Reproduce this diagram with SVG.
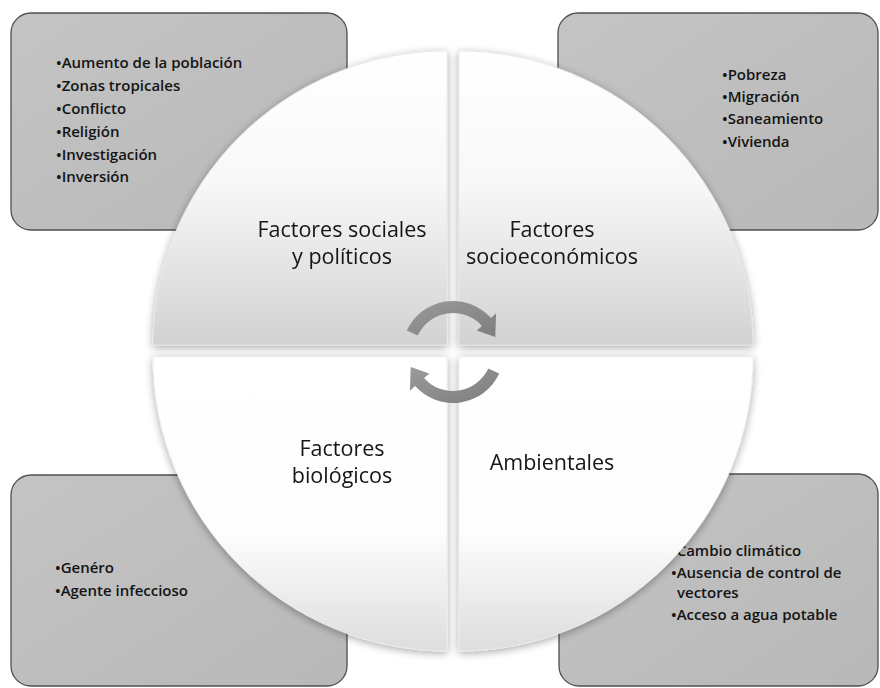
<svg xmlns="http://www.w3.org/2000/svg" width="880" height="688" viewBox="0 0 880 688">
<defs>
<linearGradient id="boxFill" x1="0" y1="0" x2="1" y2="1">
<stop offset="0" stop-color="#c4c4c4"/>
<stop offset="1" stop-color="#b8b8b8"/>
</linearGradient>
<linearGradient id="quadTop" x1="0" y1="0" x2="0" y2="1">
<stop offset="0" stop-color="#ffffff"/>
<stop offset="0.45" stop-color="#f8f8f8"/>
<stop offset="1" stop-color="#d2d2d2"/>
</linearGradient>
<linearGradient id="quadBot" x1="0" y1="0" x2="0" y2="1">
<stop offset="0" stop-color="#ffffff"/>
<stop offset="0.6" stop-color="#fdfdfd"/>
<stop offset="1" stop-color="#dddddd"/>
</linearGradient>
<linearGradient id="arrowFill" x1="0" y1="0" x2="1" y2="1">
<stop offset="0" stop-color="#9a9a9a"/>
<stop offset="1" stop-color="#7e7e7e"/>
</linearGradient>
<filter id="shadow" x="-10%" y="-10%" width="120%" height="120%">
<feGaussianBlur in="SourceAlpha" stdDeviation="4"/>
<feOffset dx="0" dy="2" result="b"/>
<feComponentTransfer><feFuncA type="linear" slope="0.35"/></feComponentTransfer>
<feMerge><feMergeNode/><feMergeNode in="SourceGraphic"/></feMerge>
</filter>
</defs>
<style>
.box{fill:url(#boxFill);stroke:#4f4f4f;stroke-width:1.3}
.item{font-family:"Open Sans","Liberation Sans",sans-serif;font-size:15px;font-weight:600;fill:#141414}
.qt{fill:url(#quadTop);stroke:#e6e6e6;stroke-width:0.8}
.qb{fill:url(#quadBot);stroke:#eeeeee;stroke-width:0.8}
.label{font-family:"Open Sans","Liberation Sans",sans-serif;font-size:21.5px;font-weight:500;fill:#141414;text-anchor:middle}
.arrow{fill:url(#arrowFill)}
</style>
<rect width="880" height="688" fill="#ffffff"/>

<g id="box-sociales">
<rect class="box" x="11" y="13" width="336" height="217" rx="20"/>
<text class="item" x="56" y="68">•Aumento de la población</text>
<text class="item" x="56" y="91">•Zonas tropicales</text>
<text class="item" x="56" y="114">•Conflicto</text>
<text class="item" x="56" y="137">•Religión</text>
<text class="item" x="56" y="160">•Investigación</text>
<text class="item" x="56" y="182">•Inversión</text>
</g>
<g id="box-socioeconomicos">
<rect class="box" x="558" y="13" width="320" height="217" rx="20"/>
<text class="item" x="722" y="80">•Pobreza</text>
<text class="item" x="722" y="102">•Migración</text>
<text class="item" x="722" y="124">•Saneamiento</text>
<text class="item" x="722" y="147">•Vivienda</text>
</g>
<g id="box-biologicos">
<rect class="box" x="11" y="475" width="336" height="211" rx="20"/>
<text class="item" x="55" y="573">•Genéro</text>
<text class="item" x="55" y="596">•Agente infeccioso</text>
</g>
<g id="box-ambientales">
<rect class="box" x="559" y="474" width="319" height="212" rx="20"/>
<text class="item" x="671" y="556">•Cambio climático</text>
<text class="item" x="671" y="578">•Ausencia de control de</text>
<text class="item" x="677" y="598">vectores</text>
<text class="item" x="671" y="620">•Acceso a agua potable</text>
</g>

<g id="circle" filter="url(#shadow)">
<g id="q-sociales">
<path class="qt" d="M447,345 L153,345 A294,294 0 0 1 447,51 Z"/>
<text class="label" x="342" y="237">Factores sociales</text>
<text class="label" x="342" y="264">y políticos</text>
</g>
<g id="q-socioeconomicos">
<path class="qt" d="M459,345 L459,51 A294,294 0 0 1 753,345 Z"/>
<text class="label" x="552" y="237">Factores</text>
<text class="label" x="552" y="264">socioeconómicos</text>
</g>
<g id="q-biologicos">
<path class="qb" d="M447,357 L447,651 A294,294 0 0 1 153,357 Z"/>
<text class="label" x="342" y="456">Factores</text>
<text class="label" x="342" y="483">biológicos</text>
</g>
<g id="q-ambientales">
<path class="qb" d="M459,357 L753,357 A294,294 0 0 1 459,651 Z"/>
<text class="label" x="552" y="470">Ambientales</text>
</g>
</g>

<g id="connectors">
<path class="arrow" d="M406.8,330.4 A51,51 0 0 1 490.9,317.9 L496.1,313.2 L495.3,337.0 L476.7,330.6 L482.0,325.9 A39,39 0 0 0 417.7,335.5 Z"/>
<path class="arrow" d="M499.2,373.6 A51,51 0 0 1 415.1,386.1 L409.9,390.8 L410.7,367.0 L429.3,373.4 L424.0,378.1 A39,39 0 0 0 488.3,368.5 Z"/>
</g>
</svg>
